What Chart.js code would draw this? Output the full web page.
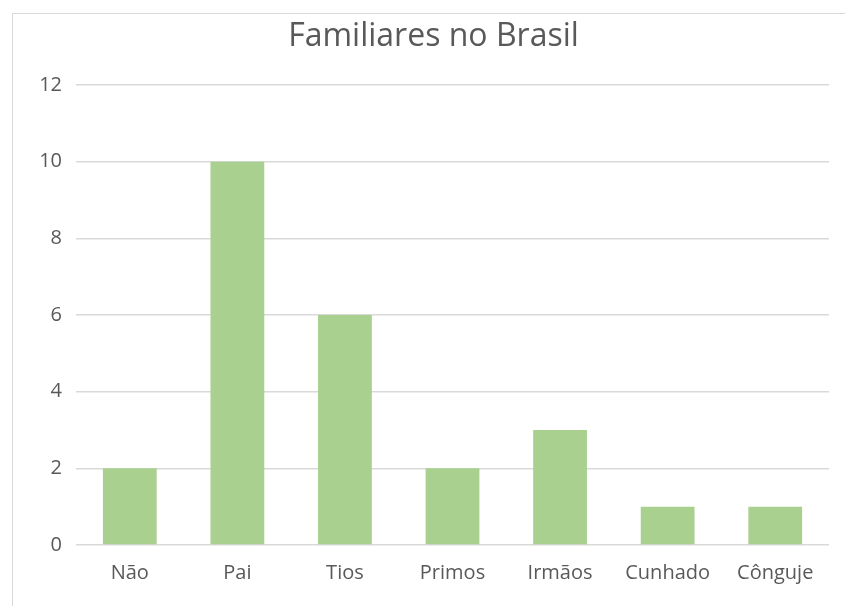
<!DOCTYPE html>
<html>
<head>
<meta charset="utf-8">
<script src="https://cdn.jsdelivr.net/npm/chart.js@4/dist/chart.umd.min.js"></script>
<style>
  html, body { margin: 0; padding: 0; background: #fff; }
  #wrap { position: relative; width: 845px; height: 606px; overflow: hidden; }
  #frame { position: absolute; left: 12px; top: 13px; width: 845px; height: 606px; border: 1px solid #d9d9d9; }
  canvas { position: absolute; left: 0; top: 0; }
</style>
</head>
<body>
<div id="wrap">
  <div id="frame"></div>
  <canvas id="chart" width="845" height="606"></canvas>
</div>
<script>
const categories = ['Não', 'Pai', 'Tios', 'Primos', 'Irmãos', 'Cunhado', 'Cônguje'];
const values = [2, 10, 6, 2, 3, 1, 1];
const yTicks = [0, 2, 4, 6, 8, 10, 12];

const textColor = '#595959';
const fontFamily = '"Open Sans", "Noto Sans", sans-serif';

new Chart(document.getElementById('chart'), {
  type: 'bar',
  data: {
    labels: categories,
    datasets: [{
      data: values,
      backgroundColor: '#a9d08e',
      barPercentage: 0.5,
      categoryPercentage: 1.0
    }]
  },
  options: {
    responsive: false,
    animation: false,
    // left padding keeps the title centred over the frame, y axis gets the rest
    layout: { padding: { top: 18, right: 16, bottom: 16, left: 38 } },
    plugins: {
      legend: { display: false },
      tooltip: { enabled: false },
      title: {
        display: true,
        text: 'Familiares no Brasil',
        color: textColor,
        font: { family: fontFamily, size: 32, weight: 'normal' },
        padding: { top: 0, bottom: 28.6 }
      }
    },
    scales: {
      x: {
        grid: { display: false, drawTicks: false },
        border: { display: false },
        ticks: { color: textColor, font: { family: fontFamily, size: 20 }, padding: 16 },
        afterFit: (scale) => { scale.height = 45; }
      },
      y: {
        min: 0,
        max: 12,
        afterBuildTicks: (scale) => { scale.ticks = yTicks.map(v => ({ value: v })); },
        grid: { color: '#d9d9d9', lineWidth: 1.5, drawTicks: false },
        border: { display: false },
        ticks: { color: textColor, font: { family: fontFamily, size: 20 }, padding: 14 },
        afterFit: (scale) => { scale.width = 38; }
      }
    }
  }
});
</script>
</body>
</html>
